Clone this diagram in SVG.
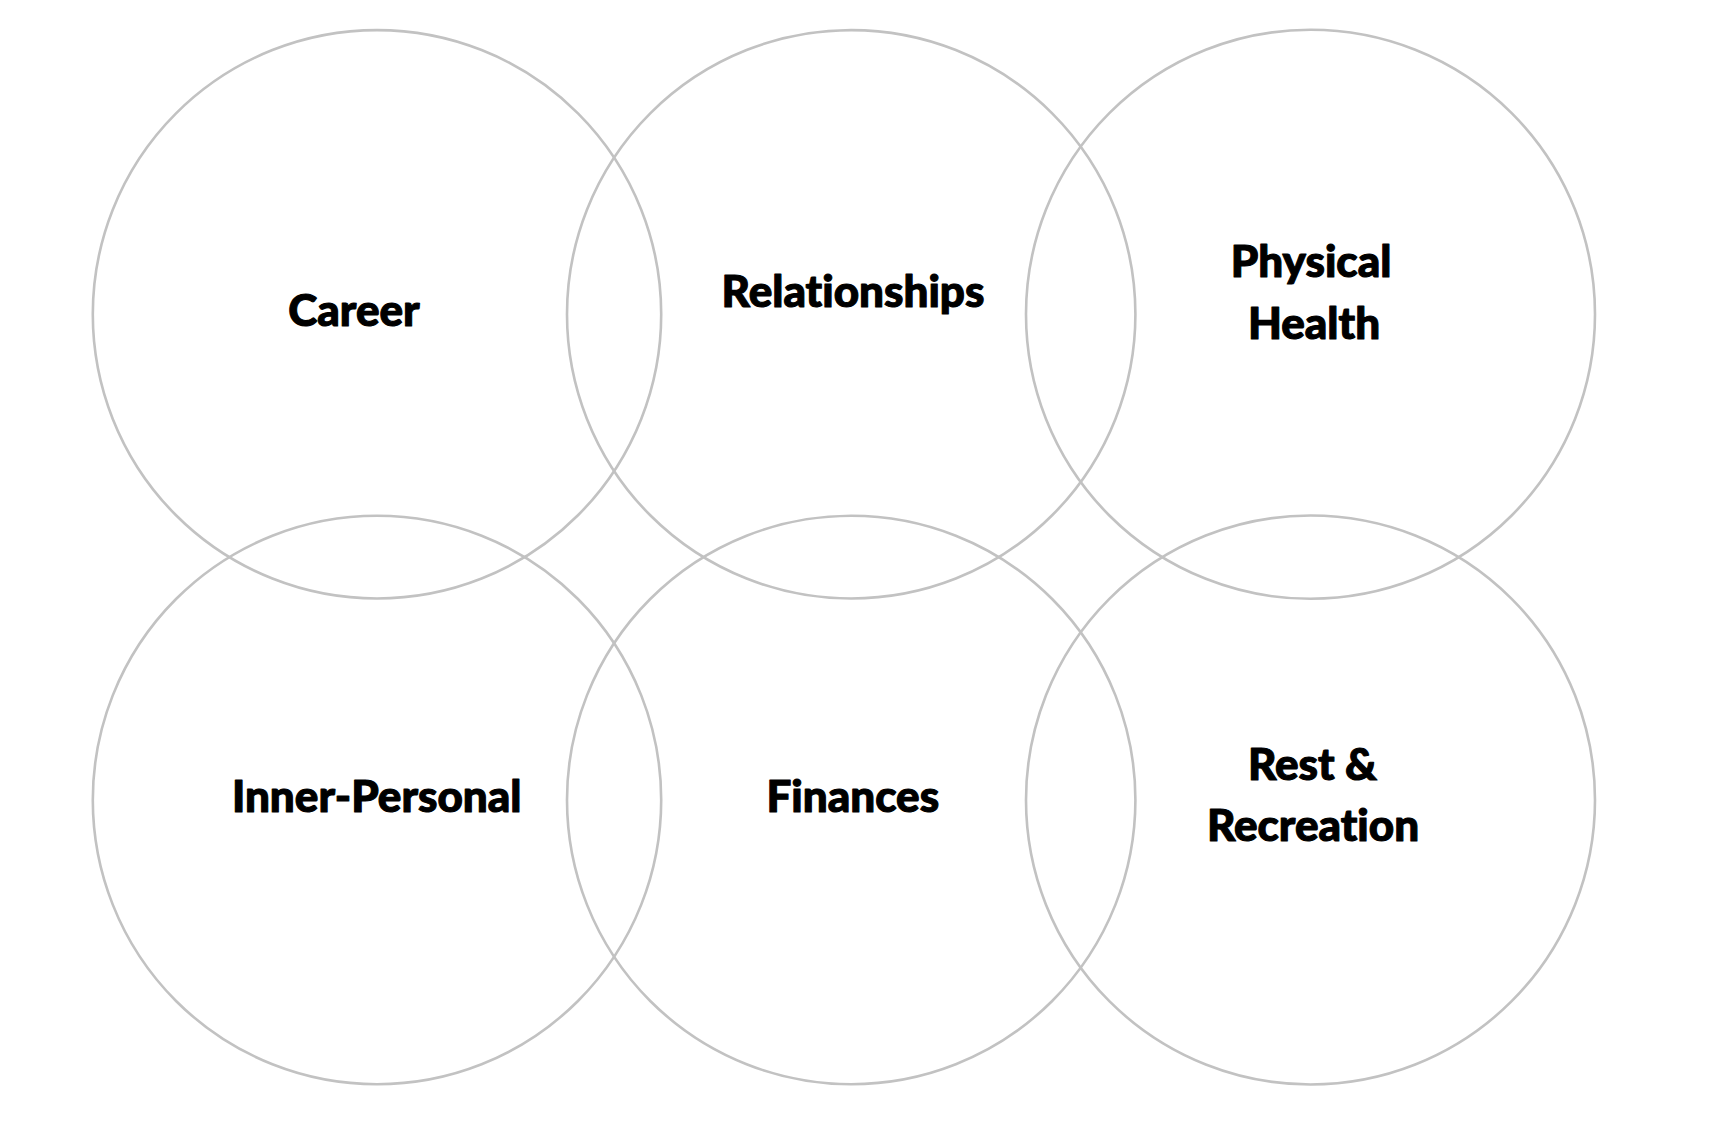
<svg xmlns="http://www.w3.org/2000/svg" width="1722" height="1132" viewBox="0 0 1722 1132">
<style>
.c{fill:none;stroke:#c2c2c2;stroke-width:2.6}
.t{font-family:Lato,"Liberation Sans",sans-serif;font-weight:900;font-size:44px;fill:#000;stroke:#000;stroke-width:1.1;stroke-linejoin:round;text-anchor:middle;font-variant-ligatures:none;font-feature-settings:"liga" 0}
</style>
<rect width="1722" height="1132" fill="#fff"/>
<g id="career"><circle class="c" cx="377" cy="314.3" r="284.2"/><text class="t" x="354" y="326">Career</text></g>
<g id="relationships"><circle class="c" cx="851.2" cy="314.3" r="284.2"/><text class="t" x="853" y="307">Relationships</text></g>
<g id="physical-health"><circle class="c" cx="1310.5" cy="314.3" r="284.5"/><text class="t" x="1311" y="276.5">Physical</text><text class="t" x="1314" y="339">Health</text></g>
<g id="inner-personal"><circle class="c" cx="377" cy="800" r="284.2"/><text class="t" x="376.7" y="811.5">Inner-Personal</text></g>
<g id="finances"><circle class="c" cx="851.2" cy="800" r="284.2"/><text class="t" x="852.8" y="811.5">Finances</text></g>
<g id="rest-recreation"><circle class="c" cx="1310.5" cy="800" r="284.5"/><text class="t" x="1312.5" y="779.5">Rest &amp;</text><text class="t" x="1313" y="841">Recreation</text></g>
<g id="connectors"></g>
</svg>
